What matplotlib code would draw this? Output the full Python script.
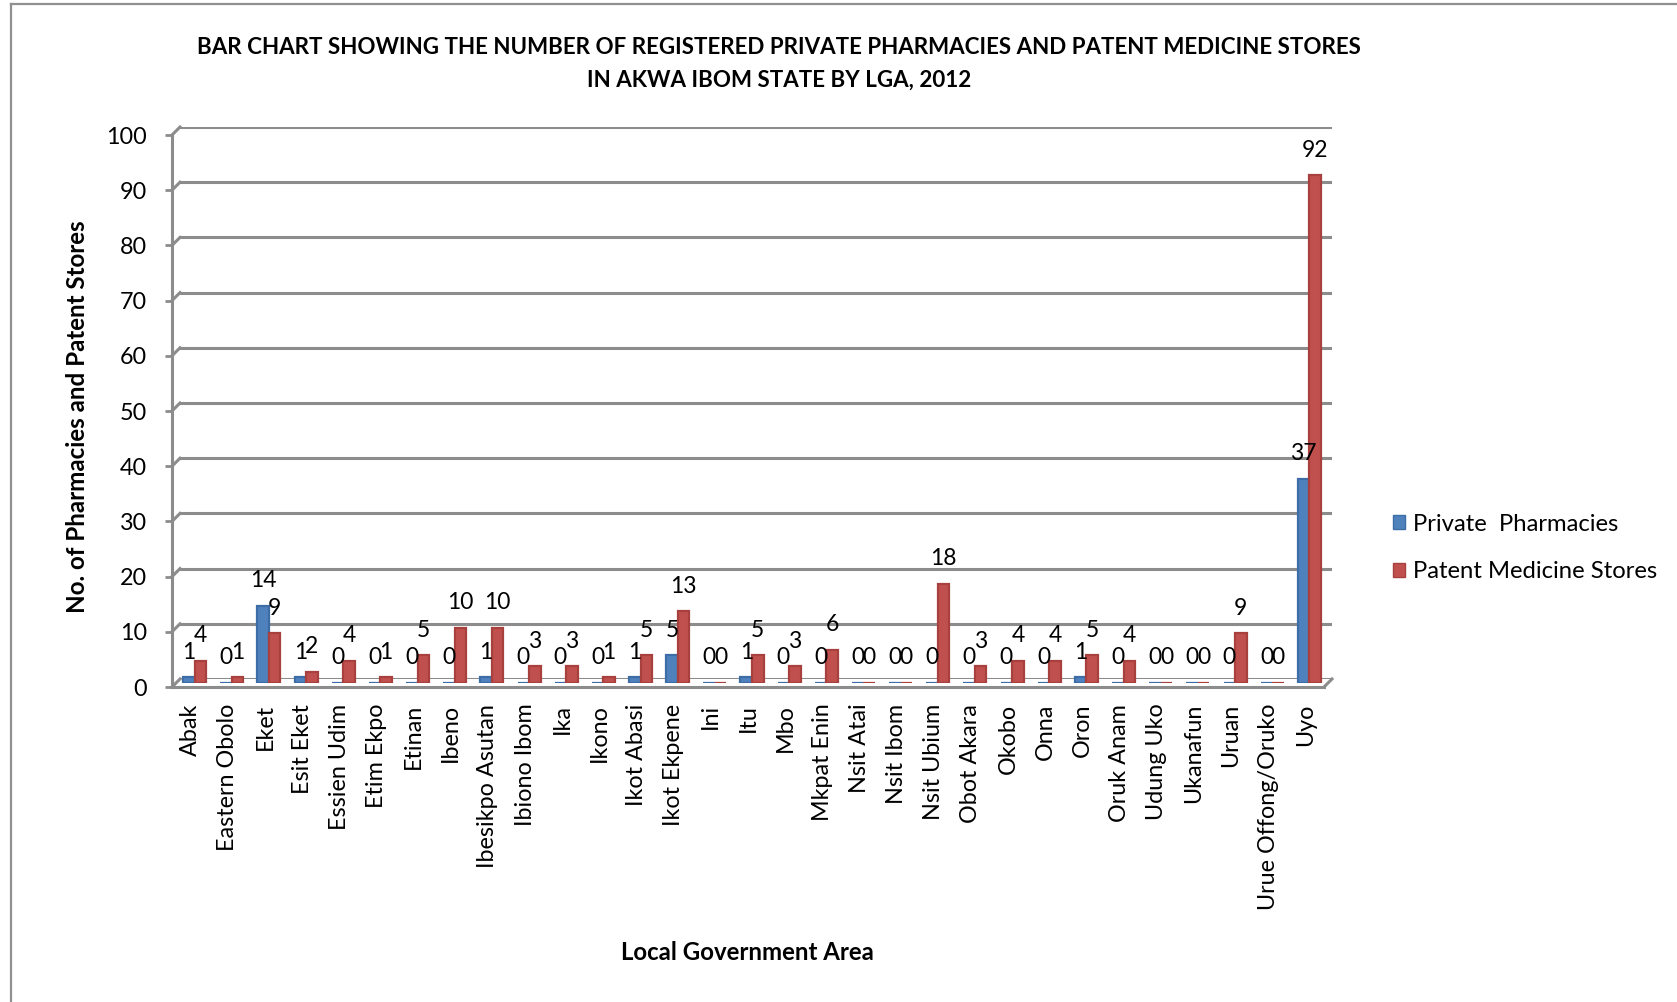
import matplotlib
matplotlib.use("Agg")
import matplotlib.pyplot as plt
import matplotlib.transforms as mtransforms
from matplotlib.lines import Line2D
from matplotlib.patches import Patch
import numpy as np

lgas = ["Abak", "Eastern Obolo", "Eket", "Esit Eket", "Essien Udim", "Etim Ekpo",
        "Etinan", "Ibeno", "Ibesikpo Asutan", "Ibiono Ibom", "Ika", "Ikono",
        "Ikot Abasi", "Ikot Ekpene", "Ini", "Itu", "Mbo", "Mkpat Enin", "Nsit Atai",
        "Nsit Ibom", "Nsit Ubium", "Obot Akara", "Okobo", "Onna", "Oron",
        "Oruk Anam", "Udung Uko", "Ukanafun", "Uruan", "Urue Offong/Oruko", "Uyo"]
private_pharmacies = [1, 0, 14, 1, 0, 0, 0, 0, 1, 0, 0, 0, 1, 5, 0, 1, 0, 0, 0,
                      0, 0, 0, 0, 0, 1, 0, 0, 0, 0, 0, 37]
patent_stores = [4, 1, 9, 2, 4, 1, 5, 10, 10, 3, 3, 1, 5, 13, 0, 5, 3, 6, 0,
                 0, 18, 3, 4, 4, 5, 4, 0, 0, 9, 0, 92]
yticks = list(range(0, 101, 10))
series_names = ["Private  Pharmacies", "Patent Medicine Stores"]

FONT = "Lato"
plt.rcParams['font.family'] = [FONT, 'DejaVu Sans']
W, H = 1677, 1002
fig = plt.figure(figsize=(W / 100, H / 100), dpi=100)

def rect(l, t, r, b):
    return [l / W, 1 - b / H, (r - l) / W, (b - t) / H]

grey = "#8c8c8c"
blue, red = "#4F81BD", "#C0504D"
blue_e, red_e = "#3d6da6", "#a8413e"
TICK_FS = 16.8
LAB_FS = 16.5

back = fig.add_axes(rect(180, 127, 1332, 679))
mid = fig.add_axes(rect(176, 131, 1328, 683))
front = fig.add_axes(rect(172, 135, 1324, 687))
x = np.arange(len(lgas))
for ax in (back, mid, front):
    ax.set_xlim(-0.5, len(lgas) - 0.5)
    ax.set_ylim(0, 100)
    ax.patch.set_visible(False)

# back wall with gridlines
back.set_yticks(yticks)
back.yaxis.grid(True, color=grey, lw=2.2)
back.tick_params(left=False, bottom=False, labelleft=False, labelbottom=False)
back.set_xticks([])
for s in back.spines.values():
    s.set_visible(False)

# bars
w = 0.31
mid.bar(x - w / 2, private_pharmacies, w, color=blue, edgecolor=blue_e, lw=1.6)
mid.bar(x + w / 2, patent_stores, w, color=red, edgecolor=red_e, lw=1.6)
for xi, v in zip(x, private_pharmacies):
    mid.annotate(str(v), (xi - w / 2, v), xytext=(0, 18), textcoords="offset points",
                 ha="center", va="center", fontsize=LAB_FS)
for xi, v in zip(x, patent_stores):
    mid.annotate(str(v), (xi + w / 2, v), xytext=(0, 18), textcoords="offset points",
                 ha="center", va="center", fontsize=LAB_FS)
mid.axis("off")

# front frame
for k in ("top", "right"):
    front.spines[k].set_visible(False)
front.spines["left"].set_color(grey)
front.spines["left"].set_linewidth(2.2)
front.spines["bottom"].set_color(grey)
front.spines["bottom"].set_linewidth(2.2)
front.set_yticks(yticks)
front.tick_params(axis="y", length=5, width=2, color=grey, pad=13, labelsize=TICK_FS)
front.set_xticks(x)
front.set_xticklabels(lgas, rotation=90, fontsize=TICK_FS)
front.tick_params(axis="x", length=0, pad=12)

# 3D elbows of the walls
px_per_unit = (687 - 135) / 100
dx = 8 / (1324 - 172)
dy = 8 / px_per_unit
tr = mtransforms.blended_transform_factory(front.transAxes, front.transData)
for v in yticks:
    front.add_line(Line2D([0, dx], [v, v + dy], transform=tr, color=grey, lw=2.2, clip_on=False))
front.add_line(Line2D([1, 1 + dx], [0, dy], transform=tr, color=grey, lw=2.2, clip_on=False))

# titles
fig.text(779 / W, 1 - 48 / H,
         "BAR CHART SHOWING THE NUMBER OF REGISTERED PRIVATE PHARMACIES AND PATENT MEDICINE STORES",
         ha="center", va="center", fontsize=16.1, fontweight="bold")
fig.text(779 / W, 1 - 80 / H, "IN AKWA IBOM STATE BY LGA, 2012",
         ha="center", va="center", fontsize=16.1, fontweight="bold")
fig.text(78 / W, 1 - 417 / H, "No. of Pharmacies and Patent Stores", rotation=90,
         ha="center", va="center", fontsize=17.4, fontweight="bold")
fig.text(747 / W, 1 - 953 / H, "Local Government Area",
         ha="center", va="center", fontsize=17.3, fontweight="bold")

# legend
handles = [Patch(facecolor=blue, edgecolor=blue_e), Patch(facecolor=red, edgecolor=red_e)]
fig.legend(handles, series_names, loc="center left", bbox_to_anchor=(1393 / W, 1 - 548 / H),
           frameon=False, fontsize=17.2, handlelength=0.5, handleheight=0.5,
           handletextpad=0.35, labelspacing=1.12, borderpad=0, borderaxespad=0)

# outer border
fig.add_artist(Line2D([10.7 / W, 10.7 / W], [0, 1 - 4.3 / H], transform=fig.transFigure,
                      color="#909090", lw=1.6))
fig.add_artist(Line2D([10.7 / W, 1], [1 - 4.3 / H, 1 - 4.3 / H], transform=fig.transFigure,
                      color="#909090", lw=1.6))

fig.savefig("out.png", dpi=100, facecolor="white")
